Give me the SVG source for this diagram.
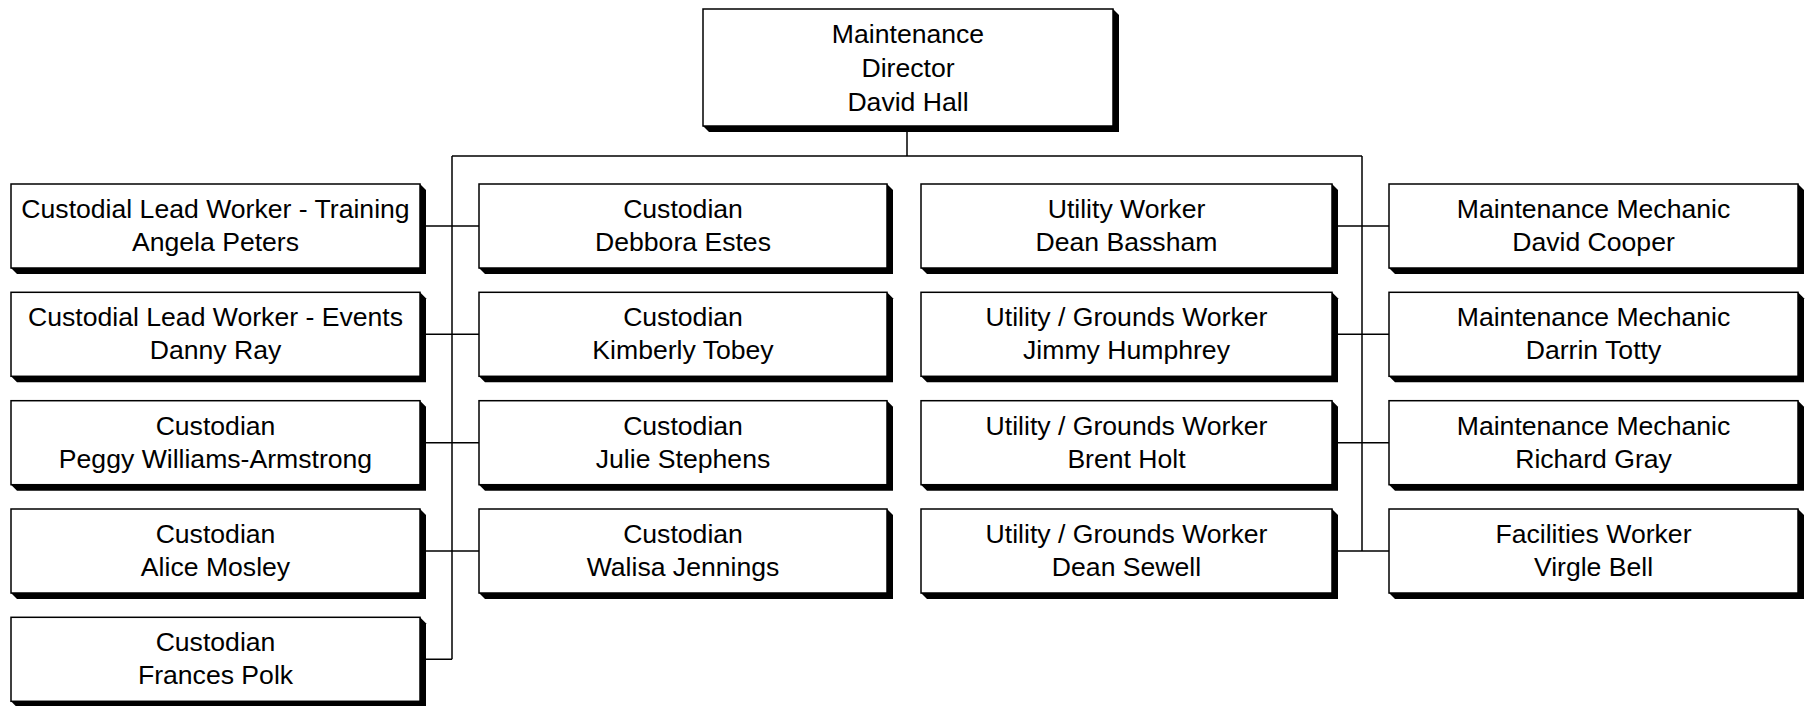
<svg xmlns="http://www.w3.org/2000/svg" width="1808" height="706" viewBox="0 0 1808 706">
<style>
.bg{fill:#ffffff}
.box{fill:#ffffff;stroke:#000000;stroke-width:1.5}
.sh{fill:#000000}
.ln{stroke:#000000;stroke-width:1.5;fill:none}
text{font-family:"Liberation Sans",Arial,sans-serif;font-size:26.6px;fill:#000000;text-anchor:middle}
</style>
<rect class="bg" x="0" y="0" width="1808" height="706"/>
<g id="connectors">
<path class="ln" d="M907,126 V156 M452,156 H1362 M452,156 V659.3 M1362,156 V551"/>
<path class="ln" d="M420,226 H479 M420,334.3 H479 M420,442.7 H479 M420,551 H479 M420,659.3 H452"/>
<path class="ln" d="M1332,226 H1389 M1332,334.3 H1389 M1332,442.7 H1389 M1332,551 H1389"/>
</g>
<g id="director">
<path class="sh" d="M1113,9 L1119,15 V132 H709 L703,126 Z"/>
<rect class="box" x="703" y="9" width="410" height="117"/>
<text x="908" y="43">Maintenance</text>
<text x="908" y="77">Director</text>
<text x="908" y="111">David Hall</text>
</g>
<g id="angela-peters">
<path class="sh" d="M420,184 L426,190 V274 H17 L11,268 Z"/>
<rect class="box" x="11" y="184" width="409" height="84"/>
<text x="215.5" y="218">Custodial Lead Worker - Training</text>
<text x="215.5" y="251">Angela Peters</text>
</g>
<g id="danny-ray">
<path class="sh" d="M420,292.3 L426,298.3 V382.3 H17 L11,376.3 Z"/>
<rect class="box" x="11" y="292.3" width="409" height="84"/>
<text x="215.5" y="326.3">Custodial Lead Worker - Events</text>
<text x="215.5" y="359.3">Danny Ray</text>
</g>
<g id="peggy-williams-armstrong">
<path class="sh" d="M420,400.7 L426,406.7 V490.7 H17 L11,484.7 Z"/>
<rect class="box" x="11" y="400.7" width="409" height="84"/>
<text x="215.5" y="434.7">Custodian</text>
<text x="215.5" y="467.7">Peggy Williams-Armstrong</text>
</g>
<g id="alice-mosley">
<path class="sh" d="M420,509 L426,515 V599 H17 L11,593 Z"/>
<rect class="box" x="11" y="509" width="409" height="84"/>
<text x="215.5" y="543">Custodian</text>
<text x="215.5" y="576">Alice Mosley</text>
</g>
<g id="frances-polk">
<path class="sh" d="M420,617.3 L426,623.3 V707.3 H17 L11,701.3 Z"/>
<rect class="box" x="11" y="617.3" width="409" height="84"/>
<text x="215.5" y="651.3">Custodian</text>
<text x="215.5" y="684.3">Frances Polk</text>
</g>
<g id="debbora-estes">
<path class="sh" d="M887,184 L893,190 V274 H485 L479,268 Z"/>
<rect class="box" x="479" y="184" width="408" height="84"/>
<text x="683" y="218">Custodian</text>
<text x="683" y="251">Debbora Estes</text>
</g>
<g id="kimberly-tobey">
<path class="sh" d="M887,292.3 L893,298.3 V382.3 H485 L479,376.3 Z"/>
<rect class="box" x="479" y="292.3" width="408" height="84"/>
<text x="683" y="326.3">Custodian</text>
<text x="683" y="359.3">Kimberly Tobey</text>
</g>
<g id="julie-stephens">
<path class="sh" d="M887,400.7 L893,406.7 V490.7 H485 L479,484.7 Z"/>
<rect class="box" x="479" y="400.7" width="408" height="84"/>
<text x="683" y="434.7">Custodian</text>
<text x="683" y="467.7">Julie Stephens</text>
</g>
<g id="walisa-jennings">
<path class="sh" d="M887,509 L893,515 V599 H485 L479,593 Z"/>
<rect class="box" x="479" y="509" width="408" height="84"/>
<text x="683" y="543">Custodian</text>
<text x="683" y="576">Walisa Jennings</text>
</g>
<g id="dean-bassham">
<path class="sh" d="M1332,184 L1338,190 V274 H927 L921,268 Z"/>
<rect class="box" x="921" y="184" width="411" height="84"/>
<text x="1126.5" y="218">Utility Worker</text>
<text x="1126.5" y="251">Dean Bassham</text>
</g>
<g id="jimmy-humphrey">
<path class="sh" d="M1332,292.3 L1338,298.3 V382.3 H927 L921,376.3 Z"/>
<rect class="box" x="921" y="292.3" width="411" height="84"/>
<text x="1126.5" y="326.3">Utility / Grounds Worker</text>
<text x="1126.5" y="359.3">Jimmy Humphrey</text>
</g>
<g id="brent-holt">
<path class="sh" d="M1332,400.7 L1338,406.7 V490.7 H927 L921,484.7 Z"/>
<rect class="box" x="921" y="400.7" width="411" height="84"/>
<text x="1126.5" y="434.7">Utility / Grounds Worker</text>
<text x="1126.5" y="467.7">Brent Holt</text>
</g>
<g id="dean-sewell">
<path class="sh" d="M1332,509 L1338,515 V599 H927 L921,593 Z"/>
<rect class="box" x="921" y="509" width="411" height="84"/>
<text x="1126.5" y="543">Utility / Grounds Worker</text>
<text x="1126.5" y="576">Dean Sewell</text>
</g>
<g id="david-cooper">
<path class="sh" d="M1798,184 L1804,190 V274 H1395 L1389,268 Z"/>
<rect class="box" x="1389" y="184" width="409" height="84"/>
<text x="1593.5" y="218">Maintenance Mechanic</text>
<text x="1593.5" y="251">David Cooper</text>
</g>
<g id="darrin-totty">
<path class="sh" d="M1798,292.3 L1804,298.3 V382.3 H1395 L1389,376.3 Z"/>
<rect class="box" x="1389" y="292.3" width="409" height="84"/>
<text x="1593.5" y="326.3">Maintenance Mechanic</text>
<text x="1593.5" y="359.3">Darrin Totty</text>
</g>
<g id="richard-gray">
<path class="sh" d="M1798,400.7 L1804,406.7 V490.7 H1395 L1389,484.7 Z"/>
<rect class="box" x="1389" y="400.7" width="409" height="84"/>
<text x="1593.5" y="434.7">Maintenance Mechanic</text>
<text x="1593.5" y="467.7">Richard Gray</text>
</g>
<g id="virgle-bell">
<path class="sh" d="M1798,509 L1804,515 V599 H1395 L1389,593 Z"/>
<rect class="box" x="1389" y="509" width="409" height="84"/>
<text x="1593.5" y="543">Facilities Worker</text>
<text x="1593.5" y="576">Virgle Bell</text>
</g>
</svg>
